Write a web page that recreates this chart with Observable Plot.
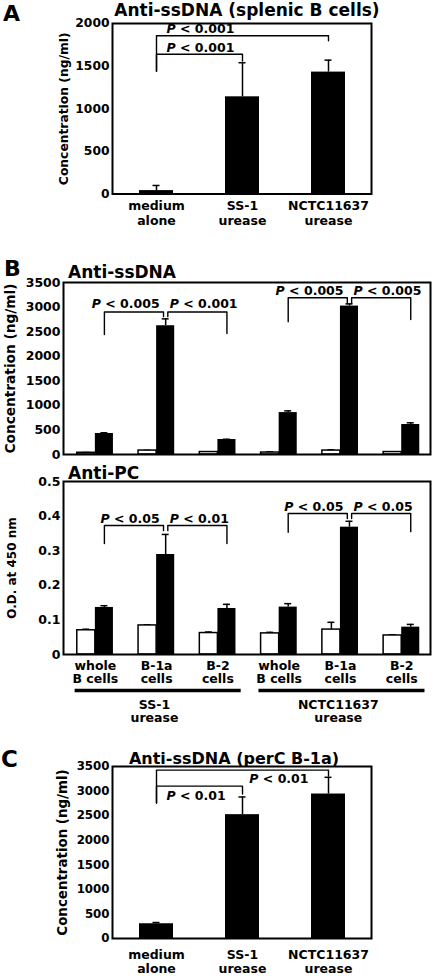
<!DOCTYPE html>
<html><head><meta charset="utf-8">
<script src="https://cdn.jsdelivr.net/npm/d3@7"></script>
<script src="https://cdn.jsdelivr.net/npm/@observablehq/plot@0.6"></script>
<style>
body{margin:0;background:#fff;}
#page{position:relative;width:434px;height:976px;overflow:hidden;background:#fff;}
#page svg{position:absolute;left:0;}
</style></head><body><div id="page"></div>
<script>
// ---------- Panel A : Anti-ssDNA (splenic B cells) ----------
const aCategories = ["medium alone", "SS-1 urease", "NCTC11637 urease"];
const aTickLabels = ["medium\nalone", "SS-1\nurease", "NCTC11637\nurease"];
const aMeans = [40, 1140, 1430];
const aErrors = [60, 400, 140];
const aTicks = [0, 500, 1000, 1500, 2000];
const aBrackets = [
  {from: 0, to: 2, top: 1857, legFrom: 1441, legTo: 1797, text: "P < 0.001", textY: 1940, side: "from"},
  {from: 0, to: 1, top: 1639, legFrom: 1441, legTo: 1560, text: "P < 0.001", textY: 1714, side: "from"}
];

// ---------- Panel B : grouped bars ----------
const bGroups = ["whole\nB cells", "B-1a\ncells", "B-2\ncells", "whole\nB cells", "B-1a\ncells", "B-2\ncells"];
const bStrains = ["SS-1\nurease", "NCTC11637\nurease"];
const ssDnaTicks = [0, 500, 1000, 1500, 2000, 2500, 3000, 3500];
const ssDnaWhite = [35, 80, 50, 40, 80, 50];
const ssDnaWhiteErr = [5, 5, 5, 15, 15, 5];
const ssDnaBlack = [427, 2620, 305, 853, 3020, 610];
const ssDnaBlackErr = [15, 140, 5, 35, 45, 35];
const ssDnaPairs = [
  {left: 0, mid: 1, right: 2, top: 2900, legLeft: 2440, legMid: 2805, legRight: 2460, labelY: 3060, labels: ["P < 0.005", "P < 0.001"]},
  {left: 3, mid: 4, right: 5, top: 3190, legLeft: 2700, legMid: 3070, legRight: 2745, labelY: 3328, labels: ["P < 0.005", "P < 0.005"]}
];
const pcTicks = [0, 0.1, 0.2, 0.3, 0.4, 0.5];
const pcWhite = [0.070, 0.084, 0.062, 0.061, 0.072, 0.055];
const pcWhiteErr = [0.003, 0.002, 0.003, 0.003, 0.021, 0.002];
const pcBlack = [0.136, 0.289, 0.133, 0.137, 0.368, 0.079];
const pcBlackErr = [0.005, 0.058, 0.012, 0.010, 0.017, 0.008];
const pcPairs = [
  {left: 0, mid: 1, right: 2, top: 0.373, legLeft: 0.321, legMid: 0.358, legRight: 0.321, labelY: 0.392, labels: ["P < 0.05", "P < 0.01"]},
  {left: 3, mid: 4, right: 5, top: 0.4075, legLeft: 0.353, legMid: 0.393, legRight: 0.355, labelY: 0.426, labels: ["P < 0.05", "P < 0.05"]}
];

// ---------- Panel C : Anti-ssDNA (perC B-1a) ----------
const cCategories = ["medium alone", "SS-1 urease", "NCTC11637 urease"];
const cTickLabels = ["medium\nalone", "SS-1\nurease", "NCTC11637\nurease"];
const cMeans = [300, 2520, 2940];
const cErrors = [25, 360, 340];
const cTicks = [0, 500, 1000, 1500, 2000, 2500, 3000, 3500];
const cBrackets = [
  {from: 0, to: 2, top: 3427, legFrom: 2755, legTo: 3305, text: "P < 0.01", textY: 3250, side: "to"},
  {from: 0, to: 1, top: 3100, legFrom: 2755, legTo: 2938, text: "P < 0.01", textY: 2890, side: "from"}
];

const FONT = "'DejaVu Sans', sans-serif";
const page = document.getElementById("page");

function baseStyle() {
  return {fontFamily: FONT, fontWeight: "bold", fontSize: "12.5px", background: "transparent", overflow: "visible", color: "black"};
}

function italicP(svg) {
  d3.select(svg).selectAll("text").each(function () {
    const t = this.textContent;
    if (this.childElementCount === 0 && /^P </.test(t)) {
      this.textContent = "";
      d3.select(this).append("tspan").attr("font-style", "italic").text("P");
      d3.select(this).append("tspan").text(t.slice(1));
    }
  });
}

function place(svg, top) {
  svg.style.top = top + "px";
  italicP(svg);
  page.appendChild(svg);
}

function bandPanel(o) {
  const rows = o.categories.map((c, i) => ({c, m: o.means[i], e: o.errors[i]}));
  const lines = o.brackets.flatMap((b, k) => [
    {k, c: o.categories[b.from], y: b.legFrom},
    {k, c: o.categories[b.from], y: b.top},
    {k, c: o.categories[b.to], y: b.top},
    {k, c: o.categories[b.to], y: b.legTo}
  ]);
  const svg = Plot.plot({
    width: 434, height: o.height,
    marginLeft: 112, marginRight: 63, marginTop: o.marginTop, marginBottom: o.marginBottom,
    style: baseStyle(),
    x: {type: "band", domain: o.categories, paddingInner: 0.606, paddingOuter: 0.303},
    y: {domain: [0, o.yMax]},
    marks: [
      Plot.ruleX(rows, {x: "c", y1: "m", y2: d => d.m + d.e, stroke: "black", strokeWidth: 1.5}),
      Plot.tickY(rows, {x: "c", y: d => d.m + d.e, insetLeft: 13.5, insetRight: 13.5, stroke: "black", strokeWidth: 1.5}),
      Plot.barY(rows, {x: "c", y1: 0, y2: "m", fill: "black"}),
      Plot.line(lines, {x: "c", y: "y", z: "k", stroke: "black", strokeWidth: 1.4}),
      Plot.text(o.brackets.filter(b => b.side === "from"), {x: b => o.categories[b.from], y: "textY", text: "text", textAnchor: "start", dx: 10, fontSize: 12.5}),
      Plot.text(o.brackets.filter(b => b.side === "to"), {x: b => o.categories[b.to], y: "textY", text: "text", textAnchor: "end", dx: -20, fontSize: 12.5}),
      Plot.frame({stroke: "black", strokeWidth: 2}),
      Plot.axisY({ticks: o.ticks, tickSize: 0, tickPadding: 3, tickFormat: d => String(d), label: null, fontSize: o.tickFont}),
      Plot.text(["Concentration (ng/ml)"], {frameAnchor: "left", rotate: -90, dx: -o.labelOffset, lineAnchor: "top", textAnchor: "middle", fontSize: o.labelFont}),
      Plot.axisX({tickSize: 0, tickPadding: o.tickPadX, tickFormat: d => o.tickLabels[o.categories.indexOf(d)], label: null, fontSize: 12.5, lineHeight: o.lineHeight})
    ]
  });
  place(svg, o.top);
}

function groupedPanel(o) {
  const bw = 0.295, cap = 0.057, gap = 0.035, off = bw / 2;
  const rows = bGroups.map((g, i) => ({i, w: o.white[i], we: o.whiteErr[i], b: o.black[i], be: o.blackErr[i]}));
  const errs = rows.flatMap(d => [
    {x: d.i - off, y1: d.w, y2: d.w + d.we},
    {x: d.i + off, y1: d.b, y2: d.b + d.be}
  ]);
  const lines = o.pairs.flatMap((p, k) => [
    {k: k + "L", x: p.left + off, y: p.legLeft},
    {k: k + "L", x: p.left + off, y: p.top},
    {k: k + "L", x: p.mid + off - gap, y: p.top},
    {k: k + "L", x: p.mid + off - gap, y: p.legMid},
    {k: k + "R", x: p.mid + off + gap, y: p.legMid},
    {k: k + "R", x: p.mid + off + gap, y: p.top},
    {k: k + "R", x: p.right + off, y: p.top},
    {k: k + "R", x: p.right + off, y: p.legRight}
  ]);
  const spans = bStrains.map((s, k) => ({s, x1: k * 3 - 0.33, x2: k * 3 + 2 + 0.38}));
  const marks = [
    Plot.ruleX(errs, {x: "x", y1: "y1", y2: "y2", stroke: "black", strokeWidth: 1.5}),
    Plot.ruleY(errs, {y: "y2", x1: d => d.x - cap, x2: d => d.x + cap, stroke: "black", strokeWidth: 1.5}),
    Plot.rect(rows, {x1: d => d.i - bw, x2: d => d.i, y1: 0, y2: "w", fill: "white", stroke: "black", strokeWidth: 1.5}),
    Plot.rect(rows, {x1: d => d.i, x2: d => d.i + bw, y1: 0, y2: "b", fill: "black"}),
    Plot.line(lines, {x: "x", y: "y", z: "k", stroke: "black", strokeWidth: 1.4}),
    Plot.text(o.pairs, {x: p => p.mid + off, y: "labelY", text: p => p.labels[0], textAnchor: "end", dx: -6, fontSize: 12.5}),
    Plot.text(o.pairs, {x: p => p.mid + off, y: "labelY", text: p => p.labels[1], textAnchor: "start", dx: 4, fontSize: 12.5}),
    Plot.frame({stroke: "black", strokeWidth: 2}),
    Plot.axisY({ticks: o.ticks, tickSize: 0, tickPadding: 3, tickFormat: d => String(d), label: null, fontSize: 12.5}),
    Plot.text([o.yLabel], {frameAnchor: "left", rotate: -90, dx: -o.labelOffset, lineAnchor: "top", textAnchor: "middle", fontSize: o.labelFont})
  ];
  if (o.showX) {
    marks.push(
      Plot.axisX({ticks: d3.range(bGroups.length), tickSize: 0, tickPadding: 6, tickFormat: i => bGroups[i], label: null, fontSize: 12.5, lineHeight: 1.05}),
      Plot.ruleY(spans, {y: () => 0, x1: "x1", x2: "x2", dy: 36, stroke: "black", strokeWidth: 3.5}),
      Plot.text(spans, {x: d => (d.x1 + d.x2) / 2 - 0.06, y: () => 0, text: "s", dy: 45, lineAnchor: "top", lineHeight: 1.05, fontSize: 12.5})
    );
  }
  const svg = Plot.plot({
    width: 434, height: o.height,
    marginLeft: 63, marginRight: 4, marginTop: o.marginTop, marginBottom: o.marginBottom,
    style: baseStyle(),
    x: {type: "linear", domain: [-0.52, 5.47], axis: o.showX ? undefined : null},
    y: {domain: [0, o.yMax]},
    marks
  });
  place(svg, o.top);
}

bandPanel({top: 0, height: 232, marginTop: 23, marginBottom: 38.5, categories: aCategories, tickLabels: aTickLabels,
  means: aMeans, errors: aErrors, ticks: aTicks, yMax: 2000, brackets: aBrackets, tickPadX: 5.5, lineHeight: 1.2,
  labelOffset: 53.5, labelFont: 12.3, tickFont: 12.3});

groupedPanel({top: 276, height: 182, marginTop: 6, marginBottom: 4, white: ssDnaWhite, whiteErr: ssDnaWhiteErr,
  black: ssDnaBlack, blackErr: ssDnaBlackErr, ticks: ssDnaTicks, yMax: 3500, pairs: ssDnaPairs,
  yLabel: "Concentration (ng/ml)", labelOffset: 58, labelFont: 13.7, showX: false});

groupedPanel({top: 476, height: 250, marginTop: 5, marginBottom: 72, white: pcWhite, whiteErr: pcWhiteErr,
  black: pcBlack, blackErr: pcBlackErr, ticks: pcTicks, yMax: 0.5, pairs: pcPairs,
  yLabel: "O.D. at 450 nm", labelOffset: 56, labelFont: 12, showX: true});

bandPanel({top: 755, height: 221, marginTop: 11, marginBottom: 38, categories: cCategories, tickLabels: cTickLabels,
  means: cMeans, errors: cErrors, ticks: cTicks, yMax: 3500, brackets: cBrackets, tickPadX: 10.5, lineHeight: 1.12,
  labelOffset: 55, labelFont: 13.4, tickFont: 11.8});

// ---------- panel letters and titles ----------
const overlay = d3.select(page).append("svg")
  .attr("width", 434).attr("height", 976)
  .style("top", "0px").style("pointer-events", "none")
  .attr("font-family", FONT).attr("font-weight", "bold").attr("fill", "black");
const headings = [
  {t: "A", x: 3, y: 21, size: 22, anchor: "start"},
  {t: "Anti-ssDNA (splenic B cells)", x: 247, y: 16, size: 17, anchor: "middle"},
  {t: "B", x: 4, y: 276, size: 22, anchor: "start"},
  {t: "Anti-ssDNA", x: 68, y: 278, size: 17, anchor: "start"},
  {t: "Anti-PC", x: 68, y: 479, size: 17, anchor: "start"},
  {t: "C", x: 1, y: 767, size: 23, anchor: "start"},
  {t: "Anti-ssDNA (perC B-1a)", x: 234, y: 764, size: 16, anchor: "middle"}
];
overlay.selectAll("text").data(headings).join("text")
  .attr("x", d => d.x).attr("y", d => d.y)
  .attr("font-size", d => d.size).attr("text-anchor", d => d.anchor)
  .text(d => d.t);
</script></body></html>
